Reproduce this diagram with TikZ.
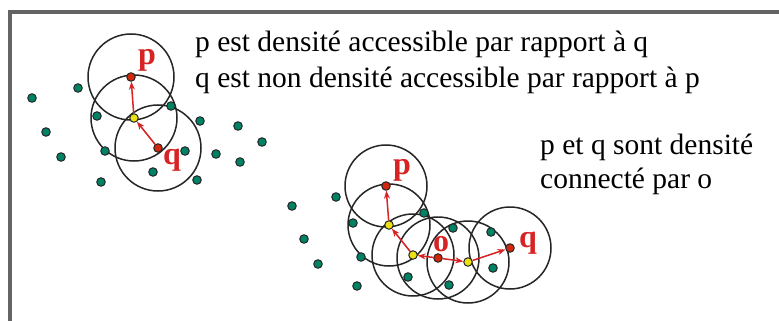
\documentclass[tikz,border=0pt]{standalone}
\usepackage{fontspec}
\setmainfont{Liberation Serif}
\usetikzlibrary{arrows.meta}
\definecolor{ptgreen}{RGB}{0,130,100}
\definecolor{ptred}{RGB}{210,40,15}
\definecolor{ptyellow}{RGB}{235,225,20}
\definecolor{lblred}{RGB}{215,35,35}
\definecolor{framegray}{RGB}{100,100,100}
\tikzset{
  dot/.style={circle, draw=black!85, line width=1pt, inner sep=0pt, minimum size=8.5pt},
  gdot/.style={dot, fill=ptgreen},
  rdot/.style={dot, fill=ptred},
  ydot/.style={dot, fill=ptyellow},
  ring/.style={draw=black!85, line width=1.5pt},
  arr/.style={draw=lblred, line width=1.5pt, -{Stealth[length=8pt,width=6pt]}},
  lbl/.style={text=lblred, font=\fontsize{32}{32}\selectfont\bfseries, anchor=base, inner sep=0pt},
  txt/.style={font=\fontsize{29.5}{36}\selectfont, anchor=base west, inner sep=0pt, text=black}
}
\begin{document}
\begin{tikzpicture}[x=1pt,y=-1pt]
\useasboundingbox (0,0) rectangle (779,321);
\fill[white] (0,0) rectangle (779,321);
% frame
\coordinate (fb) at (10,330);
\coordinate (fc) at (10,12.5);
\coordinate (fr) at (790,12.5);
\draw[framegray, line width=4pt] (fb) -- (fc) -- (fr);
% key points left
\coordinate (P1) at (131,77);
\coordinate (Y1) at (134,118);
\coordinate (Q1) at (158,148);
% key points right
\coordinate (P2) at (386,186);
\coordinate (Y2) at (389,225);
\coordinate (Y3) at (413,255);
\coordinate (O) at (438,258);
\coordinate (Y4) at (468,262);
\coordinate (Q2) at (510,248);
% circles
\foreach \c in {P1,Y1,Q1}{\draw[ring] (\c) circle (43);}
\foreach \c in {P2,Y2,Y3,O,Y4,Q2}{\draw[ring] (\c) circle (41);}
% green dots left
\foreach \x/\y [count=\i] in {32/98,78/88,97/116,171/106,200/121,238/126,262/142,46/132,61/157,105/151,185/151,216/154,240/162,101/182,153/172,197/180}
  {\node[gdot] (gl\i) at (\x,\y) {};}
% green dots right
\foreach \x/\y [count=\i] in {292/206,336/197,304/239,318/264,357/286,353/223,424/213,361/257,453/228,491/232,493/268,408/277,449/285}
  {\node[gdot] (gr\i) at (\x,\y) {};}
% special points
\node[rdot] (p1) at (P1) {};
\node[ydot] (y1) at (Y1) {};
\node[rdot] (q1) at (Q1) {};
\node[rdot] (p2) at (P2) {};
\node[ydot] (y2) at (Y2) {};
\node[ydot] (y3) at (Y3) {};
\node[rdot] (o) at (O) {};
\node[ydot] (y4) at (Y4) {};
\node[rdot] (q2) at (Q2) {};
% arrows
\draw[arr] (y1) -- (p1);
\draw[arr] (q1) -- (y1);
\draw[arr] (y2) -- (p2);
\draw[arr] (y3) -- (y2);
\draw[arr] (o) -- (y3);
\draw[arr] (o) -- (y4);
\draw[arr] (y4) -- (q2);
% labels
\node[lbl] (lp1) at (147,64) {p};
\node[lbl] (lq1) at (172,164) {q};
\node[lbl] (lp2) at (402,174) {p};
\node[lbl] (lo) at (441,251) {o};
\node[lbl] (lq2) at (528,247) {q};
% texts
\node[txt] (t1) at (195,52) {p est densité accessible par rapport à q};
\node[txt] (t2) at (195,88) {q est non densité accessible par rapport à p};
\node[txt] (t3) at (540,154) {p et q sont densité};
\node[txt] (t4) at (540,188) {connecté par o};
\end{tikzpicture}
\end{document}
